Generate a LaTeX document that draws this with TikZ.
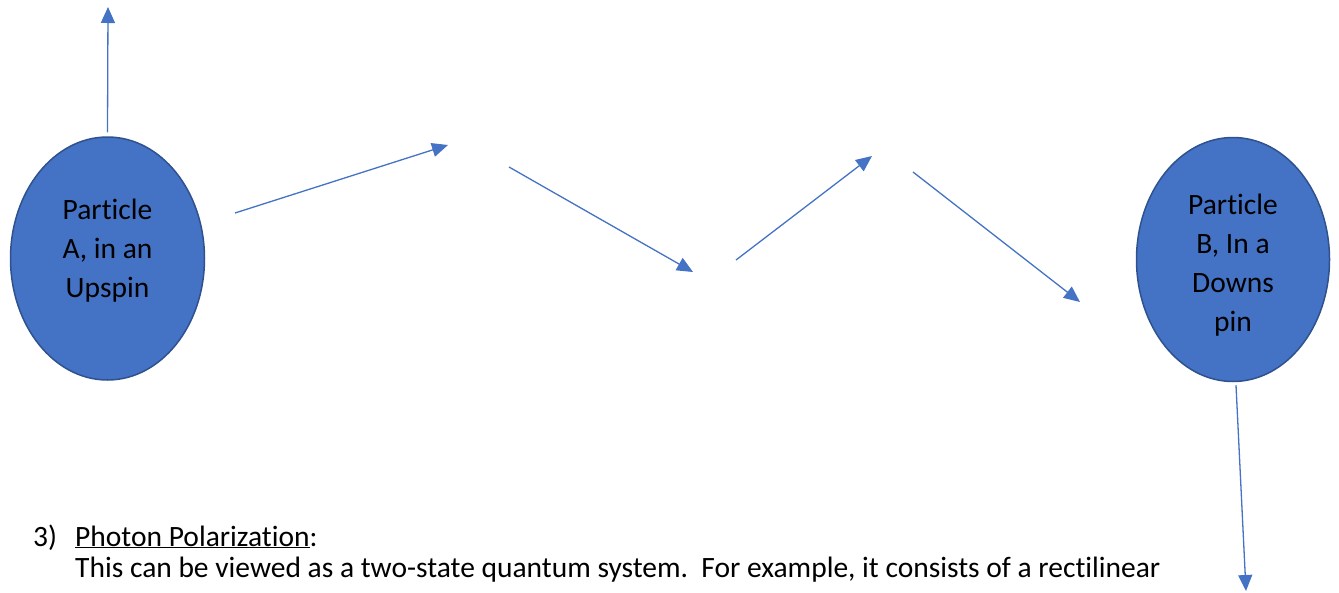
\documentclass[tikz,border=0pt]{standalone}
\usepackage{fontspec}
\setmainfont{Carlito}[Ligatures={NoCommon}]
\usetikzlibrary{arrows.meta,shapes.geometric}
\definecolor{fillblue}{HTML}{4472C4}
\definecolor{edgeblue}{HTML}{2F528F}
\definecolor{arrowblue}{HTML}{4472C4}
\begin{document}
\begin{tikzpicture}[x=1pt,y=-1pt,
  particle/.style={shape=ellipse,draw=edgeblue,line width=1.5pt,fill=fillblue,inner sep=0pt},
  arr/.style={draw=arrowblue,line width=1.3pt,-{Triangle[length=16pt,width=14pt]}},
  ptext/.style={font=\fontsize{29.5}{39}\selectfont,align=center,text=black,inner sep=0pt},
  body/.style={font=\fontsize{29.5}{31}\selectfont,anchor=base west,inner sep=0pt}]
\useasboundingbox (0,0) rectangle (1339,592);
\node[particle,minimum width=194pt,minimum height=243pt] (A) at (107.5,258.5) {};
\node[particle,minimum width=193pt,minimum height=244pt] (B) at (1233,259.5) {};
\node[ptext] (ta) at (107.5,250.5) {Particle\\A, in an\\Upspin};
\node[ptext] (tb) at (1233,265) {Particle\\B, In a\\Downs\\pin};
\coordinate (a1) at (108,7);
\coordinate (b0) at (235,213); \coordinate (b1) at (448,145);
\coordinate (c0) at (509,167); \coordinate (c1) at (693,272);
\coordinate (d0) at (736,260); \coordinate (d1) at (872,156);
\coordinate (e0) at (913,172); \coordinate (e1) at (1080,302);
\coordinate (f1) at (1246,591);
\draw[arr] ([yshift=4pt]A.north) -- (a1);
\draw[arr] (b0) -- (b1);
\draw[arr] (c0) -- (c1);
\draw[arr] (d0) -- (d1);
\draw[arr] (e0) -- (e1);
\draw[arr] ([xshift=3pt,yshift=-3pt]B.south) -- (f1);
\node[body] (n3) at (33,546) {3)};
\node[body] (h) at (75,546) {\underline{Photon Polarization}:};
\node[body] (p) at (75,577) {This can be viewed as a two-state quantum system.\ \ For example, it consists of a rectilinear};
\end{tikzpicture}
\end{document}
